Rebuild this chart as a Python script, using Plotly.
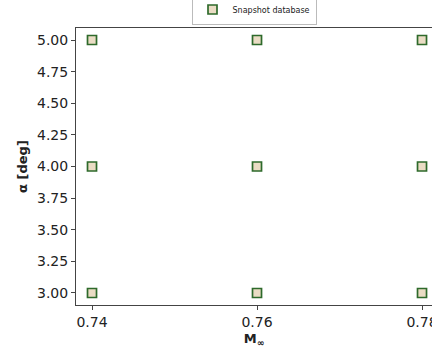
import plotly.graph_objects as go

mach = [0.74, 0.74, 0.74, 0.76, 0.76, 0.76, 0.78, 0.78, 0.78]
alpha = [3.0, 4.0, 5.0, 3.0, 4.0, 5.0, 3.0, 4.0, 5.0]
x_ticks = [0.74, 0.76, 0.78]
y_ticks = [3.00, 3.25, 3.50, 3.75, 4.00, 4.25, 4.50, 4.75, 5.00]

fig = go.Figure()
fig.add_trace(go.Scatter(
    x=mach, y=alpha, mode="markers", name="Snapshot database",
    cliponaxis=False,
    marker=dict(symbol="square", size=9, color="#eadcc4",
                line=dict(color="#2e6a2b", width=1.7)),
))

fig.update_layout(
    width=432, height=352,
    margin=dict(l=76, r=0, t=28, b=47, autoexpand=False),
    paper_bgcolor="white", plot_bgcolor="white",
    font=dict(family="DejaVu Sans", size=14, color="#222"),
    showlegend=True,
    legend=dict(x=0.5, y=1.0 + 3 / 277, xanchor="center", yanchor="bottom",
                orientation="h", bgcolor="white", bordercolor="#bbb",
                borderwidth=1, font=dict(size=8, color="#222"),
                itemwidth=30),
    xaxis=dict(range=[0.73806, 0.78121], tickvals=x_ticks, tickformat=".2f",
               showgrid=False, zeroline=False, showline=True, mirror=True,
               linecolor="#444", linewidth=1, ticks="outside", ticklen=4,
               tickcolor="#444", ticklabeloverflow="allow",
               title=dict(text="<b>M<sub>∞</sub></b>", standoff=5,
                          font=dict(size=13))),
    yaxis=dict(range=[2.905, 5.095], tickvals=y_ticks, tickformat=".2f",
               showgrid=False, zeroline=False, showline=True, mirror=False,
               linecolor="#444", linewidth=1, ticks="outside", ticklen=4,
               tickcolor="#444",
               title=dict(text="<b>α [deg]</b>", standoff=6,
                          font=dict(size=13))),
)

fig.write_html("out.html",
               config={"displayModeBar": False},
               post_script="document.body.style.margin='0';")
